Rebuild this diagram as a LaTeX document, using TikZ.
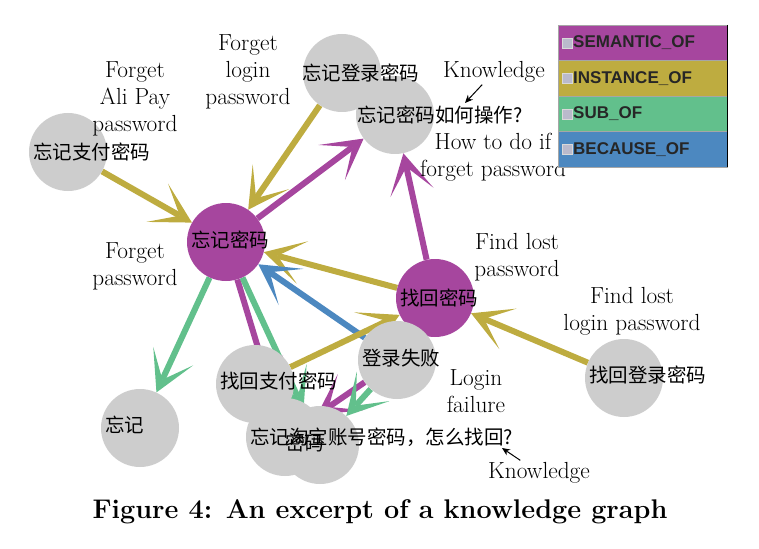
\documentclass[tikz,border=0pt]{standalone}
\usepackage{fontspec}
\usepackage{xcolor}
\usepackage{tikz}
\usetikzlibrary{arrows.meta, backgrounds}
\newfontfamily\cjk{Noto Sans CJK SC}
\newfontfamily\legendsf{Liberation Sans}
\definecolor{mypurple}{RGB}{166,70,158}
\definecolor{myolive}{RGB}{190,172,64}
\definecolor{mygreen}{RGB}{98,192,140}
\definecolor{myblue}{RGB}{76,136,192}
\definecolor{mygray}{RGB}{205,205,205}
\tikzstyle{concept} = [circle, fill=mygray, minimum size=78pt, inner sep=0pt]
\tikzstyle{intent} = [circle, fill=mypurple, minimum size=78pt, inner sep=0pt]
\tikzstyle{zh} = [anchor=west, inner sep=0pt, font=\cjk\fontsize{19.5}{20}\selectfont]
\tikzstyle{note} = [align=center, inner sep=2pt, font=\fontsize{23.3}{27}\selectfont]
\tikzstyle{link} = [line width=6pt, -{Stealth[length=40pt,width=44pt,inset=26pt,line width=0pt]}]
\tikzstyle{pointer} = [line width=1pt, -{Stealth[length=8pt,width=7pt]}]

\begin{document}
\begin{tikzpicture}[>=Stealth, x=1pt, y=-1pt]
\useasboundingbox (0,0) rectangle (759,548);

% circles
\node[concept] (fzf) at (68,152) {};
\node[concept] (wdl) at (342,73) {};
\node[concept] (how) at (395,115) {};
\node[intent] (wjmm) at (226,242) {};
\node[intent] (zhmm) at (435,298) {};
\node[concept] (dlsb) at (397,360) {};
\node[concept] (zhzf) at (255,384) {};
\node[concept] (zhdl) at (624,378) {};
\node[concept] (wj) at (140,428) {};
\node[concept] (tb) at (285,437) {};
\node[concept] (mm) at (320,445) {};

% links
\begin{scope}[on background layer]
\draw[link, myolive] (fzf) -- (wjmm);
\draw[link, myolive] (wdl) -- (wjmm);
\draw[link, mypurple] (wjmm) -- (how);
\draw[link, mypurple] (zhmm) -- (how);
\draw[link, myolive] (zhmm) -- (wjmm);
\draw[link, myblue] (dlsb) -- (wjmm);
\draw[link, myolive] (zhzf) -- (zhmm);
\draw[link, myolive] (zhdl) -- (zhmm);
\draw[link, mygreen] (wjmm) -- (wj);
\draw[link, mypurple] (wjmm) -- (tb);
\draw[link, mygreen] (wjmm) -- (mm);
\draw[link, mypurple] (dlsb) -- (tb);
\draw[link, mygreen] (dlsb) -- (mm);
\end{scope}

% node texts
\node[zh] (fzf-t) at (33,152) {忘记支付密码};
\node[zh] (wdl-t) at (302,73) {忘记登录密码};
\node[zh] (how-t) at (357,115) {忘记密码如何操作?};
\node[zh] (wjmm-t) at (191,240) {忘记密码};
\node[zh] (zhmm-t) at (400,298) {找回密码};
\node[zh] (dlsb-t) at (362,358) {登录失败};
\node[zh] (zhzf-t) at (220,381) {找回支付密码};
\node[zh] (zhdl-t) at (589,375) {找回登录密码};
\node[zh] (wj-t) at (105,425) {忘记};
\node[zh] (tb-t) at (250,437) {忘记淘宝账号密码，怎么找回?};
\node[zh] (mm-t) at (285,443) {密码};

% english notes
\node[note] (alipay) at (135,99) {Forget\\Ali Pay\\password};
\node[note] (login) at (248,72) {Forget\\login\\password};
\node[note] (know1) at (494,72) {Knowledge};
\node[note] (howto) at (493,157) {How to do if\\forget password};
\node[note] (forget) at (135,266) {Forget\\password};
\node[note] (findlost) at (517,257) {Find lost\\password};
\node[note] (findlogin) at (632,311) {Find lost\\login password};
\node[note] (loginfail) at (476,391) {Login\\failure};
\node[note] (know2) at (539,473) {Knowledge};
\coordinate (k1tip) at (465,103);
\coordinate (k2tip) at (502,448);
\draw[pointer] (know1) -- (k1tip);
\draw[pointer] (know2) -- (k2tip);

% legend
\foreach \name/\col [count=\i] in {SEMANTIC\_OF/mypurple, INSTANCE\_OF/myolive, SUB\_OF/mygreen, BECAUSE\_OF/myblue} {
  \fill[\col, draw=black!35, line width=0.6pt] (558,25+35.5*\i-35.5) rectangle (727,25+35.5*\i);
  \fill[white!88!blue!60!gray, draw=white!70!gray] (562,38+35.5*\i-35.5) rectangle (572,48+35.5*\i-35.5);
  \node[anchor=west, inner sep=0pt, text=black!85, font=\legendsf\bfseries\fontsize{17}{18}\selectfont] (leg\i) at (573,43+35.5*\i-35.5) {\name};
}
\draw[black, line width=1pt] (727,25) -- (727,167);

% caption
\node[font=\bfseries\fontsize{27}{30}\selectfont] (caption) at (380,512) {Figure 4: An excerpt of a knowledge graph};
\end{tikzpicture}
\end{document}
